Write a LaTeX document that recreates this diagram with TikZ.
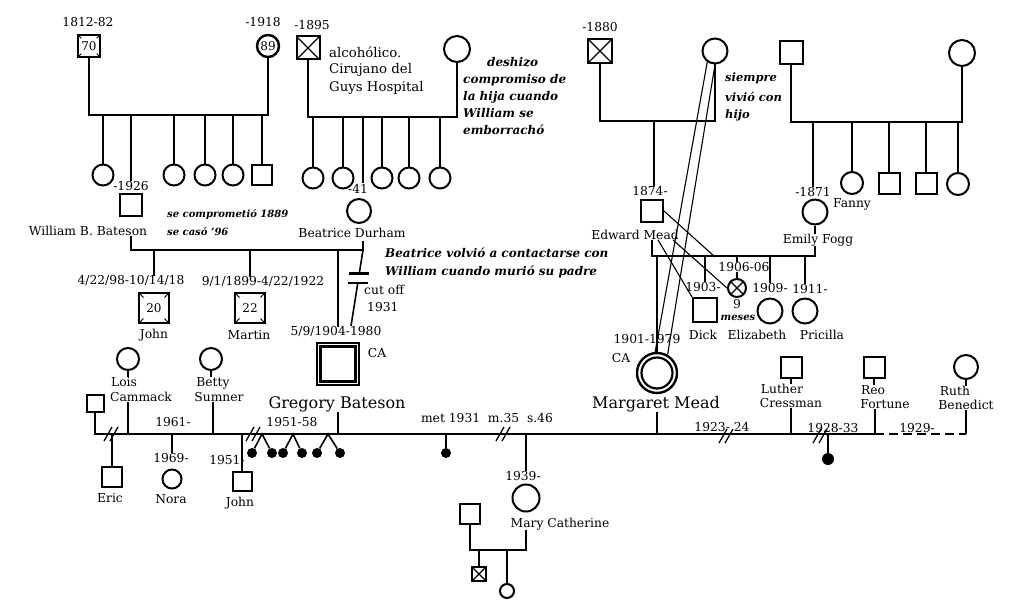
\documentclass[tikz,border=0pt]{standalone}
\usepackage{fontspec}
\setmainfont{DejaVu Serif}
\usetikzlibrary{calc}
\tikzset{
  ln/.style={line width=1.6pt},
  thinln/.style={line width=1.1pt},
  per/.style={draw, line width=2pt, inner sep=0pt, fill=white, font=\fontsize{12}{12}\selectfont},
  sqr/.style={per, rectangle, minimum size=#1pt},
  cir/.style={per, circle, minimum size=#1pt},
  xmark/.style={path picture={\draw[line width=1.1pt] (path picture bounding box.north west)--(path picture bounding box.south east) (path picture bounding box.north east)--(path picture bounding box.south west);}},
  dmark/.style={path picture={\foreach \c in {north west,north east,south west,south east}{\draw[line width=0.9pt] (path picture bounding box.\c) -- ($(path picture bounding box.\c)!0.3!(path picture bounding box.center)$);}}},
  plab/.style={inner sep=0pt, font=\fontsize{12.3}{13}\selectfont},
  pmid/.style={inner sep=0pt, font=\fontsize{13.3}{14}\selectfont, anchor=west},
  pbig/.style={inner sep=0pt, font=\fontsize{16}{18}\selectfont},
  pnote/.style={inner sep=0pt, font=\fontsize{12}{13}\selectfont\bfseries\itshape, anchor=west},
  psmall/.style={inner sep=0pt, font=\fontsize{10}{11}\selectfont\bfseries\itshape, anchor=west},
  mdot/.style={circle, fill, inner sep=0pt, minimum size=10pt},
  divm/.pic={\draw[line width=1.3pt] (-8,7)--(0,-7) (-2,7)--(6,-7);}
}
\begin{document}
\begin{tikzpicture}[x=1pt,y=-1pt]
\useasboundingbox (0,0) rectangle (1012,602);
\fill[white] (0,0) rectangle (1012,602);

% ---------- Bateson grandparents ----------
\node[plab] (y70) at (88,22) {1812-82};
\node[sqr=22, line width=2.4pt, dmark] (gf1) at (89,46) {70};
\node[plab] (y1918) at (263,22) {-1918};
\node[cir=22, line width=2.4pt] (gm1) at (268,46) {89};
\coordinate (f1) at (180,115);
\draw[ln] (gf1) |- (f1) -| (gm1);
\node[cir=21] (b1) at (103,175) {};
\node[cir=21] (b3) at (174,175) {};
\node[cir=21] (b4) at (205,175) {};
\node[cir=21] (b5) at (233,175) {};
\node[sqr=20] (b6) at (262,175) {};
\foreach \n in {b1,b3,b4,b5,b6} \draw[ln] (\n) -- (\n |- f1);
\node[plab] (wy) at (131,186) {-1926};
\node[sqr=22] (wb) at (131,205) {};
\node[plab] (wbl) at (88,231) {William B. Bateson};
\draw[ln] (wy) -- (wy |- f1);
\node[psmall] (n1) at (167,215) {se comprometió 1889};
\node[psmall] (n2) at (167,232) {se casó '96};

% ---------- Durham grandparents ----------
\node[plab] (y1895) at (312,25) {-1895};
\node[sqr=23, xmark] (gf2) at (308,48) {};
\node[cir=26] (gm2) at (457,49) {};
\node[pmid] (al1) at (329,52) {alcohólico.};
\node[pmid] (al2) at (329,70) {Cirujano del};
\node[pmid] (al3) at (329,88) {Guys Hospital};
\node[pnote] (d1) at (487,62) {deshizo};
\node[pnote] (d2) at (463,80) {compromiso de};
\node[pnote] (d3) at (463,97) {la hija cuando};
\node[pnote] (d4) at (463,113) {William se};
\node[pnote] (d5) at (463,130) {emborrachó};
\coordinate (f2) at (380,117);
\draw[ln] (gf2) |- (f2) -| (gm2);
\node[cir=21] (c21) at (313,178) {};
\node[cir=21] (c22) at (343,178) {};
\node[cir=21] (c23) at (382,178) {};
\node[cir=21] (c24) at (409,178) {};
\node[cir=21] (c25) at (440,178) {};
\foreach \n in {c21,c22,c23,c24,c25} \draw[ln] (\n) -- (\n |- f2);
\node[plab] (by) at (358,189) {-41};
\coordinate (bdrop) at (363,183);
\draw[ln] (bdrop) -- (bdrop |- f2);
\node[cir=24] (bd) at (359,211) {};
\node[plab] (bdl) at (352,233) {Beatrice Durham};

% ---------- William + Beatrice ----------
\coordinate (m1) at (250,250);
\coordinate (bdj) at (363,241);
\draw[ln] (wb |- wbl.south) |- (m1) -| (bdj);
\node[plab] (jd) at (131,281) {4/22/98-10/14/18};
\node[sqr=30, line width=2.4pt, dmark] (jo) at (154,308) {20};
\node[plab] (jl) at (154,335) {John};
\draw[ln] (jd.north -| jo) -- (jo |- m1);
\node[plab] (md) at (263,282) {9/1/1899-4/22/1922};
\node[sqr=30, line width=2.4pt, dmark] (ma) at (250,308) {22};
\node[plab] (mal) at (249,335) {Martin};
\draw[ln] (md.north -| ma) -- (ma |- m1);
\node[plab] (gd) at (336,332) {5/9/1904-1980};
\node[sqr=42, line width=2.4pt] (gb) at (338,364) {};
\node[sqr=35, line width=2.4pt] (gbi) at (338,364) {};
\node[plab] (ca1) at (377,353) {CA};
\node[pbig] (gbl) at (337,404) {Gregory Bateson};
\draw[thinln] (gd.north -| gb) -- (gb |- m1);
\coordinate (co1) at (363,250);
\coordinate (co2) at (351,326);
\draw[ln] (co1) -- ($(co1)!0.31!(co2)$);
\draw[ln] ($(co1)!0.43!(co2)$) -- (co2);
\draw[line width=2.2pt] ($(co1)!0.31!(co2)+(-10,0)$) -- ++(20,0);
\draw[line width=2.2pt] ($(co1)!0.43!(co2)+(-10,0)$) -- ++(20,0);
\node[pnote] (bv1) at (385,253) {Beatrice volvió a contactarse con};
\node[pnote] (bv2) at (385,272) {William cuando murió su padre};
\node[plab, anchor=west] (cut1) at (364,290) {cut off};
\node[plab, anchor=west] (cut2) at (367,307) {1931};

% ---------- Mead grandparents ----------
\node[plab] (y1880) at (600,27) {-1880};
\node[sqr=24, xmark] (gf3) at (600,51) {};
\node[cir=25] (gm3) at (715,51) {};
\coordinate (f3) at (654,121);
\draw[ln] (gf3) |- (f3) -| (gm3);
\node[pnote, font=\fontsize{11.5}{12}\selectfont\bfseries\itshape] (s1) at (725,78) {siempre};
\node[pnote, font=\fontsize{11.5}{12}\selectfont\bfseries\itshape] (s2) at (725,97) {vivió con};
\node[pnote, font=\fontsize{11.5}{12}\selectfont\bfseries\itshape] (s3) at (725,115) {hijo};
\node[plab] (ey) at (650,191) {1874-};
\node[sqr=22] (ed) at (652,211) {};
\node[plab] (edl) at (635,235) {Edward Mead};
\draw[ln] (ey.north -| f3) -- (f3);

% ---------- Fogg grandparents ----------
\node[sqr=23] (gf4) at (791,53) {};
\node[cir=26] (gm4) at (962,53) {};
\coordinate (f4) at (870,122);
\draw[ln] (gf4) |- (f4) -| (gm4);
\node[plab] (emy) at (813,192) {-1871};
\draw[ln] (emy.north) -- (emy.north |- f4);
\node[cir=25] (em) at (815,212) {};
\node[plab] (eml) at (818,240) {Emily Fogg};
\draw[thinln] (em) -- (em |- eml.north);
\node[cir=22] (fa) at (852,183) {};
\node[sqr=21] (s41) at (889,183) {};
\node[sqr=21] (s42) at (926,183) {};
\node[cir=22] (c44) at (958,184) {};
\foreach \n in {fa,s41,s42,c44} \draw[ln] (\n) -- (\n |- f4);
\node[plab] (fal) at (852,204) {Fanny};

% ---------- Edward + Emily ----------
\coordinate (f6) at (735,256);
\draw[ln] (edl.south -| ed) |- (f6) -| (eml.south -| em);
\node[plab] (dd) at (703,287) {1903-};
\node[sqr=24] (dk) at (705,310) {};
\node[plab] (dkl) at (703,335) {Dick};
\draw[ln] (dk.north |- dd.north) -- (dk |- f6);
\node[plab] (xd) at (744,267) {1906-06};
\node[cir=18, xmark] (xc) at (737,288) {};
\node[plab] (x9) at (737,304) {9};
\node[psmall, anchor=center] (xm) at (738,318) {meses};
\draw[ln] (xd.north -| xc) -- (xc |- f6);
\draw[thinln] (xd.south -| xc) -- (xc);
\node[plab] (eld) at (770,288) {1909-};
\node[cir=25] (el) at (770,311) {};
\node[plab] (ell) at (757,335) {Elizabeth};
\draw[ln] (eld.north -| el) -- (el |- f6);
\node[plab] (prd) at (810,289) {1911-};
\node[cir=25] (pr) at (805,311) {};
\node[plab] (prl) at (822,335) {Pricilla};
\draw[ln] (prd.north -| pr) -- (pr |- f6);

% ---------- Margaret ----------
\node[plab] (mmd) at (647,339) {1901-1979};
\node[cir=40, line width=2.4pt] (mm) at (657,373) {};
\node[cir=31, line width=2.2pt] (mmi) at (657,373) {};
\node[plab] (ca2) at (621,358) {CA};
\node[pbig] (mml) at (656,404) {Margaret Mead};
\draw[thinln] (mm.north) -- (mm.north |- f6);
\draw[thinln] (gm3.235) -- (mm.95);
\draw[thinln] (gm3.south) -- (mm.60);
\coordinate (e1) at (715,257);
\draw[thinln] (ed.east) -- (e1);
\draw[thinln] (edl.south) ++(23,0) coordinate (e2s) -- (dk.north west);
\draw[thinln] (edl.south) ++(38,0) coordinate (e3s) -- (xc.west);

% ---------- lower generation ----------
\node[sqr=17] (ef) at (95,403) {};
\node[cir=22] (lo) at (128,359) {};
\node[plab] (lol1) at (124,382) {Lois};
\node[plab] (lol2) at (141,397) {Cammack};
\node[cir=22] (be) at (211,359) {};
\node[plab] (bel1) at (213,383) {Betty};
\node[plab] (bel2) at (219,397) {Sumner};
\node[sqr=21] (lu) at (791,367) {};
\node[plab] (lul1) at (782,389) {Luther};
\node[plab] (lul2) at (791,403) {Cressman};
\node[sqr=21] (reo) at (874,367) {};
\node[plab] (reol1) at (873,390) {Reo};
\node[plab] (reol2) at (885,404) {Fortune};
\node[cir=24] (ru) at (966,367) {};
\node[plab] (rul1) at (955,391) {Ruth};
\node[plab] (rul2) at (966,405) {Benedict};
\foreach \a/\b in {lo/lol1, be/bel1, lu/lul1, reo/reol1, ru/rul1} \draw[thinln] (\a) -- (\a |- \b.north);

\coordinate (mr) at (875,434);
\draw[ln] (ef) |- (mr) -- (mr |- reol2.south);
\draw[ln, dash pattern=on 9pt off 5pt] (mr) -- (ru |- mr);
\draw[ln] (rul2.south -| ru) -- (ru |- mr);
\draw[ln] (lol2.south -| lo) -- (lo |- mr);
\draw[ln] (bel2.south -| bel1) -- (bel1 |- mr);
\draw[ln] (lul2.south -| lu) -- (lu |- mr);
\draw[ln] (gbl.south -| gb) -- (gb |- mr);
\draw[ln] (mml.south -| mm) -- (mm |- mr);

\pic at (112,434) {divm};
\pic at (254,434) {divm};
\pic at (504,434) {divm};
\pic at (727,436) {divm};
\pic at (821,436) {divm};

\node[sqr=20] (er) at (112,477) {};
\node[plab] (erl) at (110,498) {Eric};
\draw[ln] (er) -- (er |- mr);
\node[plab] (y1961) at (173,422) {1961-};
\node[plab] (nod) at (171,458) {1969-};
\node[cir=19] (no) at (172,479) {};
\node[plab] (nol) at (171,499) {Nora};
\draw[ln] (nod.north -| no) -- (no |- mr);
\node[plab] (j2d) at (227,460) {1951-};
\node[sqr=19] (j2) at (242,481) {};
\node[plab] (j2l) at (240,503) {John};
\draw[ln] (j2) -- (j2 |- mr);
\node[plab] (y5158) at (292,422) {1951-58};
\node[mdot] (m11) at (252,453) {};
\node[mdot] (m12) at (272,453) {};
\node[mdot] (m21) at (283,453) {};
\node[mdot] (m22) at (302,453) {};
\node[mdot] (m31) at (317,453) {};
\node[mdot] (m32) at (340,453) {};
\coordinate (a1) at (262,434);
\coordinate (a2) at (293,434);
\coordinate (a3) at (328,434);
\draw[ln] (m11) -- (a1) -- (m12);
\draw[ln] (m21) -- (a2) -- (m22);
\draw[ln] (m31) -- (a3) -- (m32);

\node[plab] (met) at (487,418) {met 1931\ \ m.35\ \ s.46};
\node[mdot] (m4) at (446,453) {};
\draw[ln] (m4) -- (m4 |- mr);
\node[plab] (mcd) at (523,476) {1939-};
\node[cir=27] (mc) at (526,498) {};
\node[plab] (mcl) at (560,524) {Mary Catherine};
\draw[ln] (mcd.north -| mc) -- (mc |- mr);
\node[sqr=20] (mh) at (470,514) {};
\coordinate (f5) at (500,550);
\draw[ln] (mh) |- (f5) -| (mcl.south -| mc);
\node[sqr=14, xmark] (k1) at (479,574) {};
\node[cir=14] (k2) at (507,591) {};
\draw[ln] (k1) -- (k1 |- f5);
\draw[ln] (k2) -- (k2 |- f5);

\node[plab] (y2324) at (722,427) {1923- 24};
\node[plab] (y2833) at (833,428) {1928-33};
\node[mdot, minimum size=12pt] (m5) at (828,459) {};
\draw[ln] (m5) -- (m5 |- mr);
\node[plab] (y1929) at (917,428) {1929-};
\end{tikzpicture}
\end{document}
